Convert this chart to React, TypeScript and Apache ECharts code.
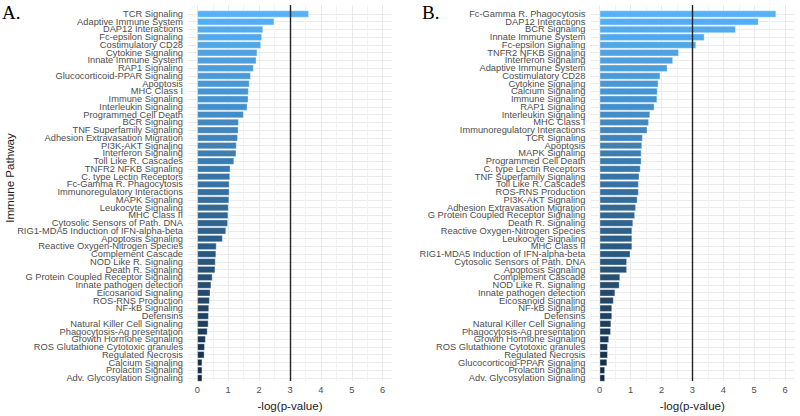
import React, { useEffect, useRef } from "react";
import * as echarts from "echarts";

const categoriesA = [
  "TCR Signaling", "Adaptive Immune System", "DAP12 Interactions", "Fc-epsilon Signaling",
  "Costimulatory CD28", "Cytokine Signaling", "Innate Immune System", "RAP1 Signaling",
  "Glucocorticoid-PPAR Signaling", "Apoptosis", "MHC Class I", "Immune Signaling",
  "Interleukin Signaling", "Programmed Cell Death", "BCR Signaling", "TNF Superfamily Signaling",
  "Adhesion Extravasation Migration", "PI3K-AKT Signaling", "Interferon Signaling", "Toll Like R. Cascades",
  "TNFR2 NFKB Signaling", "C. type Lectin Receptors", "Fc-Gamma R. Phagocytosis", "Immunoregulatory Interactions",
  "MAPK Signaling", "Leukocyte Signaling", "MHC Class II", "Cytosolic Sensors of Path. DNA",
  "RIG1-MDA5 Induction of IFN-alpha-beta", "Apoptosis Signaling", "Reactive Oxygen-Nitrogen Species", "Complement Cascade",
  "NOD Like R. Signaling", "Death R. Signaling", "G Protein Coupled Receptor Signaling", "Innate pathogen detection",
  "Eicosanoid Signaling", "ROS-RNS Production", "NF-kB Signaling", "Defensins",
  "Natural Killer Cell Signaling", "Phagocytosis-Ag presentation", "Growth Hormone Signaling", "ROS Glutathione Cytotoxic granules",
  "Regulated Necrosis", "Calcium Signaling", "Prolactin Signaling", "Adv. Glycosylation Signaling",
];
const valuesA = [
  3.61, 2.49, 2.13, 2.09, 2.06, 1.94, 1.91, 1.82,
  1.73, 1.69, 1.66, 1.65, 1.62, 1.5, 1.34, 1.33,
  1.31, 1.27, 1.26, 1.19, 1.07, 1.06, 1.04, 1.04,
  1.03, 1.01, 1.0, 0.99, 0.93, 0.82, 0.62, 0.61,
  0.59, 0.58, 0.49, 0.45, 0.42, 0.4, 0.38, 0.37,
  0.36, 0.33, 0.27, 0.24, 0.23, 0.16, 0.16, 0.16,
];

const categoriesB = [
  "Fc-Gamma R. Phagocytosis", "DAP12 Interactions", "BCR Signaling", "Innate Immune System",
  "Fc-epsilon Signaling", "TNFR2 NFKB Signaling", "Interferon Signaling", "Adaptive Immune System",
  "Costimulatory CD28", "Cytokine Signaling", "Calcium Signaling", "Immune Signaling",
  "RAP1 Signaling", "Interleukin Signaling", "MHC Class I", "Immunoregulatory Interactions",
  "TCR Signaling", "Apoptosis", "MAPK Signaling", "Programmed Cell Death",
  "C. type Lectin Receptors", "TNF Superfamily Signaling", "Toll Like R. Cascades", "ROS-RNS Production",
  "PI3K-AKT Signaling", "Adhesion Extravasation Migration", "G Protein Coupled Receptor Signaling", "Death R. Signaling",
  "Reactive Oxygen-Nitrogen Species", "Leukocyte Signaling", "MHC Class II", "RIG1-MDA5 Induction of IFN-alpha-beta",
  "Cytosolic Sensors of Path. DNA", "Apoptosis Signaling", "Complement Cascade", "NOD Like R. Signaling",
  "Innate pathogen detection", "Eicosanoid Signaling", "NF-kB Signaling", "Defensins",
  "Natural Killer Cell Signaling", "Phagocytosis-Ag presentation", "Growth Hormone Signaling", "ROS Glutathione Cytotoxic granules",
  "Regulated Necrosis", "Glucocorticoid-PPAR Signaling", "Prolactin Signaling", "Adv. Glycosylation Signaling",
];
const valuesB = [
  5.71, 5.14, 4.4, 3.39, 3.12, 2.56, 2.37, 2.19,
  1.96, 1.9, 1.87, 1.86, 1.77, 1.63, 1.59, 1.54,
  1.39, 1.37, 1.35, 1.35, 1.32, 1.28, 1.26, 1.26,
  1.22, 1.17, 1.14, 1.08, 1.05, 1.05, 1.05, 0.99,
  0.88, 0.88, 0.66, 0.64, 0.5, 0.45, 0.4, 0.4,
  0.37, 0.36, 0.3, 0.26, 0.26, 0.24, 0.17, 0.17,
];

const X_MIN = 0;
const X_MAX = 6;
const THRESHOLD = 3;
const PANEL_LABELS = ["A.", "B."];
const Y_TITLE = "Immune Pathway";
const X_TITLE = "-log(p-value)";

const FONT = '"Liberation Sans", Arial, Helvetica, sans-serif';
const UNIT = 30.9;
const PAD = 0.3;
const LOW = "#132B43";
const HIGH = "#56B1F7";

function buildPanel(p: number, zeroX: number, cats: string[], vals: number[]) {
  const left = zeroX - PAD * UNIT;
  const width = (X_MAX - X_MIN + 2 * PAD) * UNIT;
  const n = cats.length;
  const g0 = 3 * p;
  const grids = [
    { left: zeroX, top: 5, width: (X_MAX - X_MIN) * UNIT, height: 380 },
    { left, top: 14, width, height: 363.9 },
    { left, top: 10.13, width, height: 371.75 },
  ];
  const xAxes = [
    {
      type: "value", gridIndex: g0, min: X_MIN, max: X_MAX, interval: 0.5,
      axisLine: { show: false }, axisTick: { show: false },
      splitLine: { show: true, lineStyle: { color: ["#EBEBEB", "#F3F3F3"], width: 1 } },
      axisLabel: {
        formatter: (v: number) => (Number.isInteger(v) ? String(v) : ""),
        color: "#4D4D4D", fontSize: 9.3, margin: 4, fontFamily: FONT,
      },
      name: X_TITLE, nameLocation: "middle", nameGap: 18,
      nameTextStyle: { color: "#1a1a1a", fontSize: 11.6, fontFamily: FONT },
    },
    { type: "value", gridIndex: g0 + 1, min: X_MIN - PAD, max: X_MAX + PAD, show: false },
    { type: "value", gridIndex: g0 + 2, min: X_MIN - PAD, max: X_MAX + PAD, show: false },
  ];
  const yAxes = [
    { type: "value", gridIndex: g0, min: 0, max: 1, show: false },
    {
      type: "value", gridIndex: g0 + 1, min: 0, max: n - 1, interval: 1,
      axisLine: { show: false }, axisTick: { show: false }, axisLabel: { show: false },
      splitLine: { show: true, lineStyle: { color: "#EBEBEB", width: 1 } },
    },
    {
      type: "category", gridIndex: g0 + 2, data: cats, inverse: true,
      axisLine: { show: false }, axisTick: { show: false }, splitLine: { show: false },
      axisLabel: { interval: 0, color: "#4D4D4D", fontSize: 9.3, margin: 5, fontFamily: FONT },
    },
  ];
  const series = [
    {
      type: "bar", xAxisIndex: g0 + 2, yAxisIndex: g0 + 2, barWidth: "90%",
      itemStyle: { borderColor: "rgba(255,255,255,0.55)", borderWidth: 0.6 },
      data: vals.map((v, i) => ({
        value: v,
        itemStyle: { color: echarts.color.lerp(1 - i / (n - 1), [LOW, HIGH]) },
      })),
    },
    {
      type: "line", xAxisIndex: g0, yAxisIndex: g0, data: [],
      markLine: {
        silent: true, symbol: ["none", "none"], label: { show: false },
        lineStyle: { color: "#222", width: 1.4, type: "solid" },
        data: [{ xAxis: THRESHOLD }],
      },
    },
  ];
  return { grids, xAxes, yAxes, series };
}

export default function App() {
  const ref = useRef<HTMLDivElement>(null);
  useEffect(() => {
    if (!ref.current) return;
    const chart = echarts.init(ref.current, null, { renderer: "svg" });
    const a = buildPanel(0, 197.3, categoriesA, valuesA);
    const b = buildPanel(1, 599.7, categoriesB, valuesB);
    chart.setOption({
      animation: false,
      backgroundColor: "#ffffff",
      grid: [...a.grids, ...b.grids],
      xAxis: [...a.xAxes, ...b.xAxes],
      yAxis: [...a.yAxes, ...b.yAxes],
      series: [a.series[0], b.series[0], a.series[1], b.series[1]],
      graphic: [
        {
          type: "text", left: 2, top: 3,
          style: { text: PANEL_LABELS[0], font: '19px "Liberation Serif", "Times New Roman", serif', fill: "#000" },
        },
        {
          type: "text", left: 422, top: 3,
          style: { text: PANEL_LABELS[1], font: '19px "Liberation Serif", "Times New Roman", serif', fill: "#000" },
        },
        {
          type: "text", x: 9, y: 178, rotation: Math.PI / 2,
          style: {
            text: Y_TITLE, font: '11.6px "Liberation Sans", Arial, sans-serif', fill: "#1a1a1a",
            textAlign: "center", textVerticalAlign: "middle",
          },
        },
      ],
    });
    return () => chart.dispose();
  }, []);
  return <div ref={ref} style={{ position: "fixed", left: 0, top: 0, width: 800, height: 416 }} />;
}
